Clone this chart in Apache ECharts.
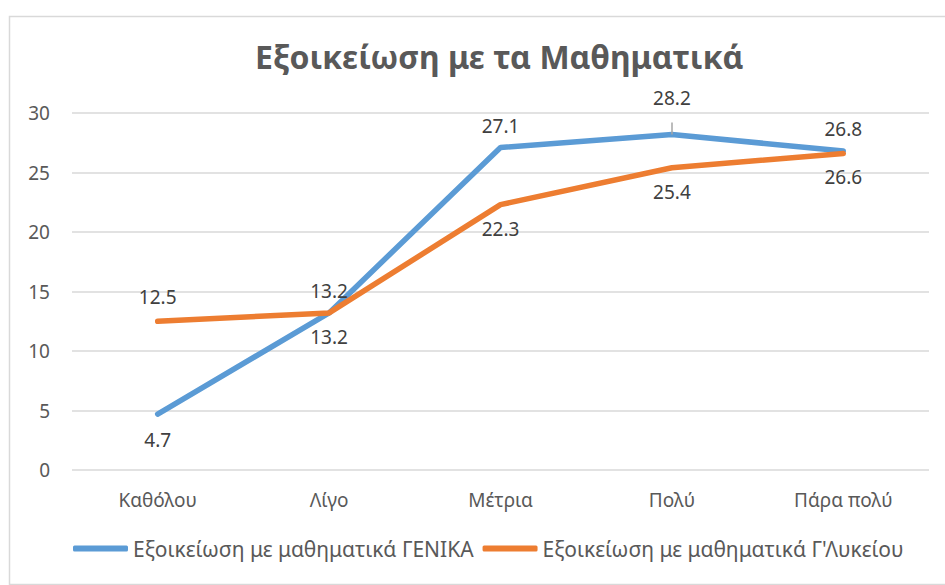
<!DOCTYPE html>
<html>
<head>
<meta charset="utf-8">
<script src="https://cdn.jsdelivr.net/npm/echarts@6/dist/echarts.min.js"></script>
<style>html,body{margin:0;padding:0;background:#fff}#chart{width:945px;height:585px}</style>
</head>
<body>
<div id="chart"></div>
<script>
var categories = ['Καθόλου', 'Λίγο', 'Μέτρια', 'Πολύ', 'Πάρα πολύ'];
var geniko = [4.7, 13.2, 27.1, 28.2, 26.8];
var lykeio = [12.5, 13.2, 22.3, 25.4, 26.6];
var genikoPos = ['bottom', 'top', 'top', 'top', 'top'];
var lykeioPos = ['top', 'bottom', 'bottom', 'bottom', 'bottom'];
var seriesNames = ['Εξοικείωση με μαθηματικά ΓΕΝΙΚΑ', 'Εξοικείωση με μαθηματικά Γ\'Λυκείου'];
var colors = ['#5b9bd5', '#ed7d31'];

var chart = echarts.init(document.getElementById('chart'), null, {renderer: 'svg'});
var font = 'Noto Sans';

function pts(vals, pos, dist) {
    return vals.map(function (v, i) {
        return {value: v, label: {position: pos[i], distance: dist[i]}};
    });
}

var option = {
    animation: false,
    title: {
        text: 'Εξοικείωση με τα Μαθηματικά',
        left: 250, top: 35,
        textStyle: {fontFamily: font, fontSize: 32, fontWeight: 'bold', color: '#595959'}
    },
    legend: {
        bottom: 21, left: 68,
        itemWidth: 55, itemHeight: 6, itemGap: 9,
        icon: 'roundRect',
        textStyle: {fontFamily: font, fontSize: 21, color: '#595959'},
        data: seriesNames.map(function (n, i) {
            return {name: n, itemStyle: {opacity: 1, color: colors[i]}};
        })
    },
    grid: {left: 72, right: 16, top: 113, bottom: 115},
    xAxis: {
        type: 'category',
        data: categories,
        axisLine: {show: false},
        axisTick: {show: false},
        axisLabel: {fontFamily: font, fontSize: 19, color: '#595959', margin: 20}
    },
    yAxis: {
        type: 'value',
        min: 0, max: 30, interval: 5,
        axisLabel: {fontFamily: font, fontSize: 19, color: '#595959', margin: 22},
        splitLine: {lineStyle: {color: '#d9d9d9', width: 1.5}}
    },
    color: colors,
    series: [
        {
            name: seriesNames[0], type: 'line', symbol: 'circle', symbolSize: 1,
            itemStyle: {opacity: 0},
            lineStyle: {width: 5.5, cap: 'round'},
            label: {show: true, fontFamily: font, fontSize: 19, color: '#404040', opacity: 1},
            data: pts(geniko, genikoPos, [16, 12, 12, 26, 12]),
            markLine: {
                silent: true, symbol: 'none',
                lineStyle: {color: '#a6a6a6', width: 1.5, type: 'solid'},
                label: {show: false},
                data: [[{coord: [categories[3], geniko[3]]}, {coord: [categories[3], geniko[3] + 1]}]]
            }
        },
        {
            name: seriesNames[1], type: 'line', symbol: 'circle', symbolSize: 1,
            itemStyle: {opacity: 0},
            lineStyle: {width: 5.5, cap: 'round'},
            label: {show: true, fontFamily: font, fontSize: 19, color: '#404040', opacity: 1},
            data: pts(lykeio, lykeioPos, [14, 14, 14, 14, 14])
        }
    ],
    graphic: [{
        type: 'rect', left: 7, top: 14, silent: true,
        shape: {width: 945, height: 568},
        style: {fill: 'none', stroke: '#d9d9d9', lineWidth: 1.5}
    }]
};

chart.setOption(option);
</script>
</body>
</html>
